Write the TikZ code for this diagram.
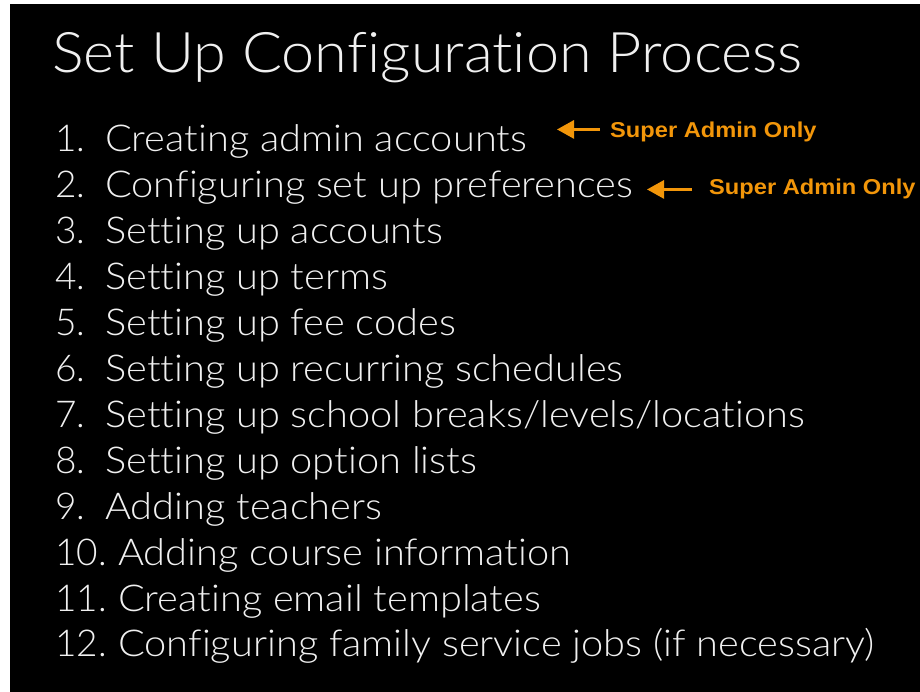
\documentclass[tikz,border=0pt]{standalone}
\usepackage{fontspec}
\usepackage{graphicx}
\IfFontExistsTF{Lato Light}{\setmainfont{Lato Light}[Ligatures={NoCommon,NoDiscretionary,NoContextual}]}{\setmainfont{Liberation Sans}}
\newfontfamily\labfont{Liberation Sans}[BoldFont={Liberation Sans Bold}]
\usetikzlibrary{arrows.meta}
\definecolor{txt}{RGB}{240,240,240}
\definecolor{orng}{RGB}{242,150,10}
\newcommand{\wideby}[2]{\scalebox{#1}[1]{#2}}
\tikzset{
  title/.style={anchor=base west,inner sep=0pt,text=txt,font=\fontsize{56}{60}\selectfont},
  num/.style={anchor=base west,inner sep=0pt,text=txt,font=\fontsize{37}{40}\selectfont},
  item/.style={anchor=base west,inner sep=0pt,text=txt,font=\fontsize{37}{40}\selectfont},
  lab/.style={anchor=base west,inner sep=0pt,text=orng,font=\labfont\bfseries\fontsize{21.5}{24}\selectfont},
  arr/.style={draw=orng,line width=3pt,-{Triangle[length=17pt,width=18pt]}}
}
\begin{document}
\begin{tikzpicture}[x=1pt,y=-1pt]
\useasboundingbox (0,0) rectangle (920,692);
\fill[white] (0,0) rectangle (920,692);
\fill[black] (10,4) rectangle (920,692);
\node[title] (t) at (52,73) {\wideby{1.06}{Set Up Configuration Process}};
\foreach \n/\tx [count=\i] in {
  1/Creating admin accounts,
  2/Configuring set up preferences,
  3/Setting up accounts,
  4/Setting up terms,
  5/Setting up fee codes,
  6/Setting up recurring schedules,
  7/Setting up school breaks\slash levels\slash locations,
  8/Setting up option lists,
  9/Adding teachers}{
  \node[num] (n\i) at (55,{152+45.9*(\i-1)}) {\n.};
  \node[item] (it\i) at (105,{152+45.9*(\i-1)}) {\wideby{1.075}{\tx}};
}
\foreach \n/\tx [count=\j from 10] in {
  10/Adding course information,
  11/Creating email templates,
  12/Configuring family service jobs (if necessary)}{
  \node[num] (n\j) at (55,{152+45.9*(\j-1)}) {\n.};
  \node[item] (it\j) at (118,{152+45.9*(\j-1)}) {\wideby{1.075}{\tx}};
}
\node[lab] (lab1) at (610,138) {\wideby{1.1}{Super Admin Only}};
\node[lab] (lab2) at (709,195) {\wideby{1.1}{Super Admin Only}};
\draw[arr] ([xshift=-10pt,yshift=3pt]lab1.west) -- ([xshift=-53pt,yshift=3pt]lab1.west);
\draw[arr] ([xshift=-17pt,yshift=0pt]lab2.west) -- ([xshift=-62pt,yshift=0pt]lab2.west);
\end{tikzpicture}
\end{document}
